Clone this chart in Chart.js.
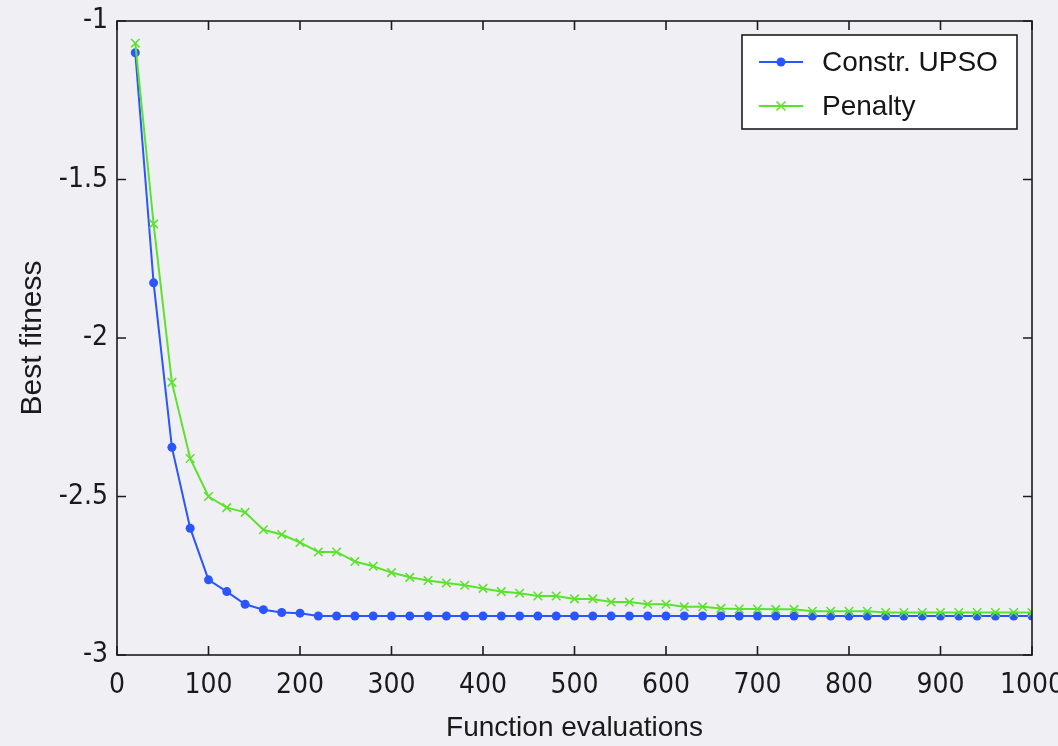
<!DOCTYPE html>
<html>
<head>
<meta charset="utf-8">
<script src="https://cdn.jsdelivr.net/npm/chart.js@4/dist/chart.umd.min.js"></script>
<style>
  html, body { margin: 0; padding: 0; background: #f0f0f4; }
  #wrap { width: 1058px; height: 746px; }
</style>
</head>
<body>
<div id="wrap"><canvas id="c" width="1058" height="746"></canvas></div>
<script>
// function evaluations (x)
const evals = [20, 40, 60, 80, 100, 120, 140, 160, 180, 200,
  220, 240, 260, 280, 300, 320, 340, 360, 380, 400,
  420, 440, 460, 480, 500, 520, 540, 560, 580, 600,
  620, 640, 660, 680, 700, 720, 740, 760, 780, 800,
  820, 840, 860, 880, 900, 920, 940, 960, 980, 1000];

// best fitness per series
const upso = [-1.10, -1.826, -2.345, -2.60, -2.763, -2.80, -2.84, -2.857, -2.866, -2.868,
  -2.877, -2.877, -2.877, -2.877, -2.877, -2.877, -2.877, -2.877, -2.877, -2.877,
  -2.877, -2.877, -2.877, -2.877, -2.877, -2.877, -2.877, -2.877, -2.877, -2.877,
  -2.877, -2.877, -2.877, -2.877, -2.877, -2.877, -2.877, -2.877, -2.877, -2.877,
  -2.877, -2.877, -2.877, -2.877, -2.877, -2.877, -2.877, -2.877, -2.877, -2.877];

const penalty = [-1.07, -1.64, -2.14, -2.38, -2.50, -2.535, -2.55, -2.605, -2.62, -2.645,
  -2.675, -2.675, -2.705, -2.72, -2.74, -2.755, -2.765, -2.773, -2.78, -2.79,
  -2.80, -2.805, -2.814, -2.814, -2.823, -2.823, -2.833, -2.833, -2.84, -2.84,
  -2.848, -2.848, -2.853, -2.855, -2.855, -2.856, -2.856, -2.862, -2.862, -2.862,
  -2.862, -2.866, -2.866, -2.866, -2.866, -2.866, -2.866, -2.866, -2.866, -2.866];

const seriesNames = ['Constr. UPSO', 'Penalty'];
const xTickLabels = ['0', '100', '200', '300', '400', '500', '600', '700', '800', '900', '1000'];
const yTickLabels = ['-3', '-2.5', '-2', '-1.5', '-1'];
const xTitle = 'Function evaluations';
const yTitle = 'Best fitness';

const BLUE = '#2a55ff';
const GREEN = '#5ce22e';
const tickFont = { family: "'Liberation Sans Narrow', 'DejaVu Sans Condensed', sans-serif", size: 28 };
const textFont = "28px 'Liberation Sans', Arial, sans-serif";

// axes box with inward ticks on all four sides (matlab look)
const boxPlugin = {
  id: 'box',
  afterDatasetsDraw(chart) {
    const { ctx, chartArea: a, scales: { x, y } } = chart;
    const len = 9;
    ctx.save();
    ctx.strokeStyle = '#1c1c1c';
    ctx.lineWidth = 1.6;
    ctx.strokeRect(a.left, a.top, a.right - a.left, a.bottom - a.top);
    ctx.beginPath();
    x.ticks.forEach(t => {
      const px = x.getPixelForValue(t.value);
      ctx.moveTo(px, a.bottom); ctx.lineTo(px, a.bottom - len);
      ctx.moveTo(px, a.top); ctx.lineTo(px, a.top + len);
    });
    y.ticks.forEach(t => {
      const py = y.getPixelForValue(t.value);
      ctx.moveTo(a.left, py); ctx.lineTo(a.left + len, py);
      ctx.moveTo(a.right, py); ctx.lineTo(a.right - len, py);
    });
    ctx.stroke();
    ctx.restore();
  }
};

function drawMarker(ctx, style, cx, cy, color) {
  ctx.save();
  ctx.strokeStyle = color;
  ctx.fillStyle = color;
  if (style === 'circle') {
    ctx.beginPath();
    ctx.arc(cx, cy, 4.5, 0, Math.PI * 2);
    ctx.fill();
  } else {
    ctx.lineWidth = 1.6;
    ctx.beginPath();
    ctx.moveTo(cx - 4.5, cy - 4.5); ctx.lineTo(cx + 4.5, cy + 4.5);
    ctx.moveTo(cx - 4.5, cy + 4.5); ctx.lineTo(cx + 4.5, cy - 4.5);
    ctx.stroke();
  }
  ctx.restore();
}

const legendPlugin = {
  id: 'boxLegend',
  afterDraw(chart) {
    const { ctx, chartArea: a } = chart;
    const w = 275, h = 94;
    const left = a.right - 290, top = a.top + 14;
    ctx.save();
    ctx.fillStyle = '#ffffff';
    ctx.fillRect(left, top, w, h);
    ctx.strokeStyle = '#1c1c1c';
    ctx.lineWidth = 1.6;
    ctx.strokeRect(left, top, w, h);
    ctx.font = textFont;
    ctx.textBaseline = 'middle';
    ctx.textAlign = 'left';
    const rows = [top + 27, top + 71];
    chart.data.datasets.forEach((ds, i) => {
      const ry = rows[i];
      ctx.strokeStyle = ds.borderColor;
      ctx.lineWidth = ds.borderWidth;
      ctx.beginPath();
      ctx.moveTo(left + 17, ry);
      ctx.lineTo(left + 61, ry);
      ctx.stroke();
      drawMarker(ctx, ds.pointStyle, left + 39, ry, ds.borderColor);
      ctx.fillStyle = '#151515';
      ctx.fillText(ds.label, left + 80, ry + 1);
    });
    ctx.restore();
  }
};

const toPoints = vals => evals.map((e, i) => ({ x: e, y: vals[i] }));

new Chart(document.getElementById('c').getContext('2d'), {
  type: 'line',
  data: {
    datasets: [
      {
        label: seriesNames[0],
        data: toPoints(upso),
        borderColor: BLUE,
        backgroundColor: BLUE,
        borderWidth: 2,
        pointStyle: 'circle',
        pointRadius: 4.5,
        pointBorderWidth: 0,
        tension: 0,
        order: 2
      },
      {
        label: seriesNames[1],
        data: toPoints(penalty),
        borderColor: GREEN,
        backgroundColor: GREEN,
        borderWidth: 2,
        pointStyle: 'crossRot',
        pointRadius: 6,
        pointBorderWidth: 1.6,
        tension: 0,
        order: 1
      }
    ]
  },
  options: {
    responsive: false,
    animation: false,
    devicePixelRatio: 1,
    layout: { padding: { left: 0, top: 21, right: 26, bottom: 0 } },
    plugins: {
      legend: { display: false },
      tooltip: { enabled: false }
    },
    scales: {
      x: {
        type: 'linear',
        min: 0,
        max: 1000,
        grid: { display: false, drawTicks: false },
        border: { display: false },
        ticks: {
          stepSize: 100, padding: 14, maxRotation: 0, autoSkip: false, color: '#1a1a1a', font: tickFont,
          callback: (v, i) => xTickLabels[i]
        },
        title: { display: true, text: xTitle, color: '#1a1a1a', font: { family: "'Liberation Sans', Arial, sans-serif", size: 28, lineHeight: 1.2 }, padding: { top: 0, bottom: 1 } },
        afterFit(s) { s.height = 91; s.paddingLeft = 0; s.paddingRight = 0; }
      },
      y: {
        min: -3,
        max: -1,
        grid: { display: false, drawTicks: false },
        border: { display: false },
        ticks: {
          stepSize: 0.5, padding: 9, color: '#1a1a1a', font: tickFont,
          callback: (v, i) => yTickLabels[i]
        },
        title: { display: true, text: yTitle, color: '#1a1a1a', font: { family: "'Liberation Sans', Arial, sans-serif", size: 30, lineHeight: 1.2 }, padding: { top: 15, bottom: 0 } },
        afterFit(s) { s.width = 117; s.paddingTop = 0; s.paddingBottom = 0; }
      }
    }
  },
  plugins: [boxPlugin, legendPlugin]
});
</script>
</body>
</html>
